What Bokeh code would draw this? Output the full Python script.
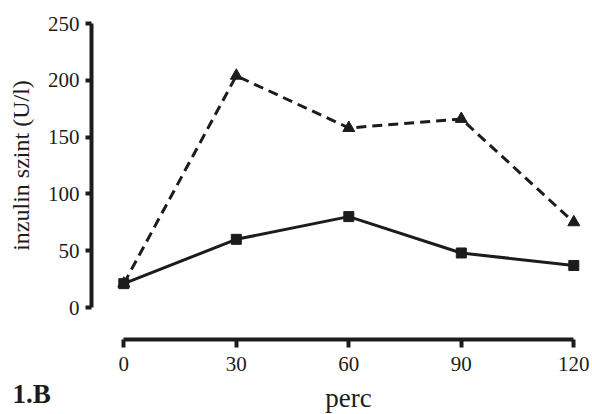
from bokeh.plotting import figure
from bokeh.models import Range1d, Label, FixedTicker
from bokeh.embed import file_html
from bokeh.resources import INLINE

# data
minutes = [0, 30, 60, 90, 120]
dashed_series = [21, 204, 158, 166, 75]   # triangles, dashed line
solid_series = [21, 60, 80, 48, 37]       # squares, solid line
x_ticks = [0, 30, 60, 90, 120]
y_ticks = [0, 50, 100, 150, 200, 250]

FONT = "Liberation Serif"
INK = "#1c1c1c"

W, H = 592, 414
# pixel layout of the reference
X0_PX, X_PER = 123.3, 3.75      # screen x of minute 0, px per minute
Y0_PX, Y_PER = 307.0, 1.136     # screen y of value 0, px per unit
YAXIS_PX, XAXIS_PX = 91.0, 339.0

p = figure(
    width=W, height=H,
    min_border_left=0, min_border_right=0, min_border_top=0, min_border_bottom=0,
    x_range=Range1d(-X0_PX / X_PER, (W - X0_PX) / X_PER),
    y_range=Range1d(-(H - Y0_PX) / Y_PER, Y0_PX / Y_PER),
    output_backend="svg", toolbar_location=None,
)
p.outline_line_color = None
p.xgrid.visible = False
p.ygrid.visible = False
p.background_fill_color = "white"
p.border_fill_color = "white"

for ax in (p.xaxis[0], p.yaxis[0]):
    ax.axis_line_width = 4
    ax.axis_line_color = INK
    ax.major_tick_line_width = 4
    ax.major_tick_line_color = INK
    ax.major_tick_in = 0
    ax.minor_tick_line_color = None
    ax.major_label_text_font = FONT
    ax.major_label_text_color = INK
    ax.major_label_text_font_size = "21px"
    ax.axis_label_text_font = FONT
    ax.axis_label_text_font_style = "normal"
    ax.axis_label_text_color = INK

p.yaxis.fixed_location = (YAXIS_PX - X0_PX) / X_PER
p.xaxis.fixed_location = -(XAXIS_PX - Y0_PX) / Y_PER
p.xaxis.bounds = (0, 120)
p.yaxis.bounds = (0, 250)
p.xaxis.ticker = FixedTicker(ticks=x_ticks)
p.yaxis.ticker = FixedTicker(ticks=y_ticks)
p.xaxis.major_tick_out = 8
p.yaxis.major_tick_out = 6
p.xaxis.major_label_standoff = 9
p.yaxis.major_label_standoff = 6
p.xaxis.axis_label = "perc"
p.yaxis.axis_label = "inzulin szint (U/l)"
p.xaxis.axis_label_text_font_size = "27px"
p.yaxis.axis_label_text_font_size = "24px"
p.xaxis.axis_label_standoff = 9
p.yaxis.axis_label_standoff = 11

p.line(minutes, dashed_series, line_color=INK, line_width=3, line_dash="10 6")
p.scatter(minutes, dashed_series, marker="triangle", size=12, fill_color=INK, line_color=INK)
p.line(minutes, solid_series, line_color=INK, line_width=3)
p.scatter(minutes, solid_series, marker="square", size=10, fill_color=INK, line_color=INK)

p.add_layout(Label(x=12, y=21, x_units="screen", y_units="screen", text="1.B",
                   text_font=FONT, text_font_style="bold", text_font_size="27px",
                   text_color=INK, text_baseline="alphabetic"))

open("out.html", "w").write(file_html(p, INLINE))
